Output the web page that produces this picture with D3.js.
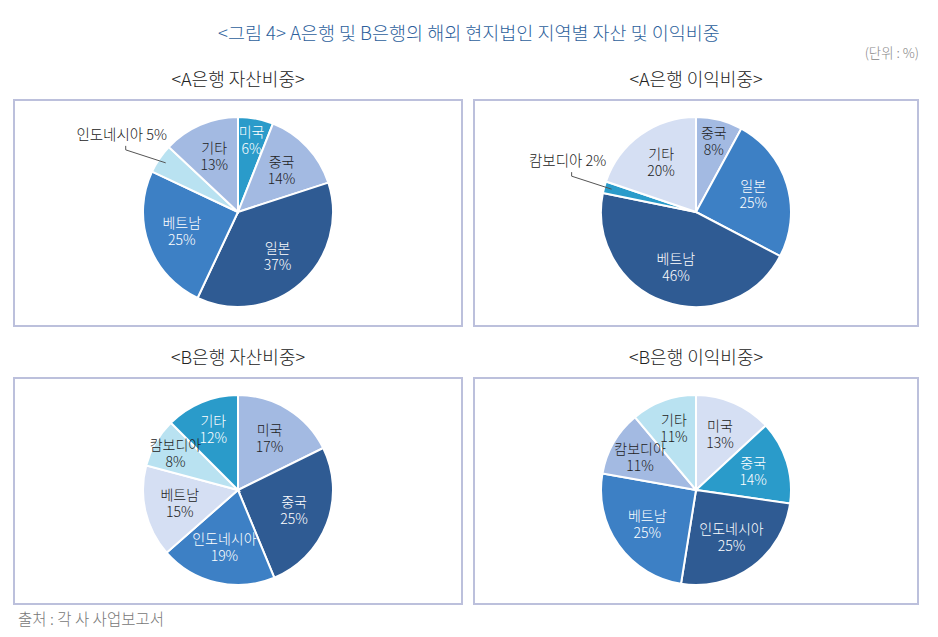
<!DOCTYPE html>
<html>
<head>
<meta charset="utf-8">
<script src="https://cdn.jsdelivr.net/npm/d3@7"></script>
<style>
  body { margin: 0; background: #fff; }
  svg { display: block; font-family: "Noto Sans CJK KR", "Noto Sans", sans-serif; font-weight: 300; }
</style>
</head>
<body>
<svg id="chart" width="938" height="637"></svg>
<script>
// 지역별 비중 (%)
const aAssetRegions = ['미국', '중국', '일본', '베트남', '인도네시아', '기타'];
const aAssetShares = [6, 14, 37, 25, 5, 13];
const aIncomeRegions = ['중국', '일본', '베트남', '캄보디아', '기타'];
const aIncomeShares = [8, 25, 46, 2, 20];
const bAssetRegions = ['미국', '중국', '인도네시아', '베트남', '캄보디아', '기타'];
const bAssetShares = [17, 25, 19, 15, 8, 12];
const bIncomeRegions = ['미국', '중국', '인도네시아', '베트남', '캄보디아', '기타'];
const bIncomeShares = [13, 14, 25, 25, 11, 11];
const panelTitles = ['<A은행 자산비중>', '<A은행 이익비중>', '<B은행 자산비중>', '<B은행 이익비중>'];

// colours
const DARK = '#2f5b93', MID = '#3d80c5', TEAL = '#2a9bca',
      LIGHT = '#a3bae2', PALE = '#b9e2f1', LAV = '#d5dff3';
const onDark = new Set([DARK, MID, TEAL]);

const panels = [
  { regions: aAssetRegions, shares: aAssetShares, colors: [TEAL, LIGHT, DARK, MID, PALE, LIGHT], outside: ['인도네시아'] },
  { regions: aIncomeRegions, shares: aIncomeShares, colors: [LIGHT, MID, DARK, TEAL, LAV], outside: ['캄보디아'] },
  { regions: bAssetRegions, shares: bAssetShares, colors: [LIGHT, DARK, MID, LAV, PALE, TEAL], outside: [] },
  { regions: bIncomeRegions, shares: bIncomeShares, colors: [LAV, TEAL, DARK, MID, LIGHT, PALE], outside: [] }
];

const layout = {
  boxes: [
    { x: 14, y: 100, w: 448, h: 226 },
    { x: 474, y: 100, w: 444, h: 226 },
    { x: 14, y: 378, w: 448, h: 226 },
    { x: 474, y: 378, w: 444, h: 226 }
  ],
  radius: 95
};

const svg = d3.select('#chart');

svg.append('text')
  .attr('x', 469).attr('y', 40)
  .attr('text-anchor', 'middle')
  .attr('font-size', 18.5)
  .attr('fill', '#2d5f9c')
  .text('<그림 4> A은행 및 B은행의 해외 현지법인 지역별 자산 및 이익비중');

svg.append('text')
  .attr('x', 919).attr('y', 58)
  .attr('text-anchor', 'end')
  .attr('font-size', 13.4)
  .attr('fill', '#888')
  .text('(단위 : %)');

svg.append('text')
  .attr('x', 18).attr('y', 625)
  .attr('font-size', 15.5)
  .attr('fill', '#777')
  .text('출처 : 각 사 사업보고서');

const pie = d3.pie().sort(null).value(d => d.value);
const arc = d3.arc().innerRadius(0).outerRadius(layout.radius);

panels.forEach((p, i) => {
  const box = layout.boxes[i];
  const cx = box.x + box.w / 2, cy = box.y + box.h / 2 - 1;

  svg.append('text')
    .attr('x', cx).attr('y', box.y - 14)
    .attr('text-anchor', 'middle')
    .attr('font-size', 18)
    .attr('fill', '#222')
    .text(panelTitles[i]);

  svg.append('rect')
    .attr('x', box.x).attr('y', box.y)
    .attr('width', box.w).attr('height', box.h)
    .attr('fill', '#fff')
    .attr('stroke', '#bcc0dc')
    .attr('stroke-width', 2);

  const data = p.regions.map((name, k) => ({ name, value: p.shares[k], color: p.colors[k] }));
  const total = d3.sum(data, d => d.value);
  const g = svg.append('g').attr('transform', `translate(${cx},${cy})`);
  const arcs = pie(data);

  g.selectAll('path')
    .data(arcs)
    .join('path')
      .attr('d', arc)
      .attr('fill', d => d.data.color)
      .attr('stroke', '#fff')
      .attr('stroke-width', 2);

  arcs.forEach(a => {
    const mid = (a.startAngle + a.endAngle) / 2;
    const d = a.data;
    if (p.outside.includes(d.name)) {
      const r = layout.radius * 0.92;
      const ex = Math.sin(mid) * r, ey = -Math.cos(mid) * r;
      const bx = ex - 40, by = ey - 13;
      g.append('path')
        .attr('d', `M${ex},${ey}L${bx},${by}L${bx},${by - 4}`)
        .attr('fill', 'none')
        .attr('stroke', '#555')
        .attr('stroke-width', 1);
      g.append('text')
        .attr('x', bx - 4).attr('y', by - 10)
        .attr('text-anchor', 'middle')
        .attr('font-size', 14.5)
        .attr('fill', '#222')
        .text(`${d.name} ${d.value}%`);
      return;
    }
    const share = d.value / total;
    const lr = layout.radius * (share < 0.1 ? 0.76 : share < 0.13 ? 0.68 : 0.63);
    const lx = Math.sin(mid) * lr, ly = -Math.cos(mid) * lr;
    const t = g.append('text')
      .attr('text-anchor', 'middle')
      .attr('font-size', 14)
      .attr('fill', onDark.has(d.color) ? '#fff' : '#222');
    t.append('tspan').attr('x', lx).attr('y', ly - 4).text(d.name);
    t.append('tspan').attr('x', lx).attr('y', ly + 13).text(`${d.value}%`);
  });
});
</script>
</body>
</html>
